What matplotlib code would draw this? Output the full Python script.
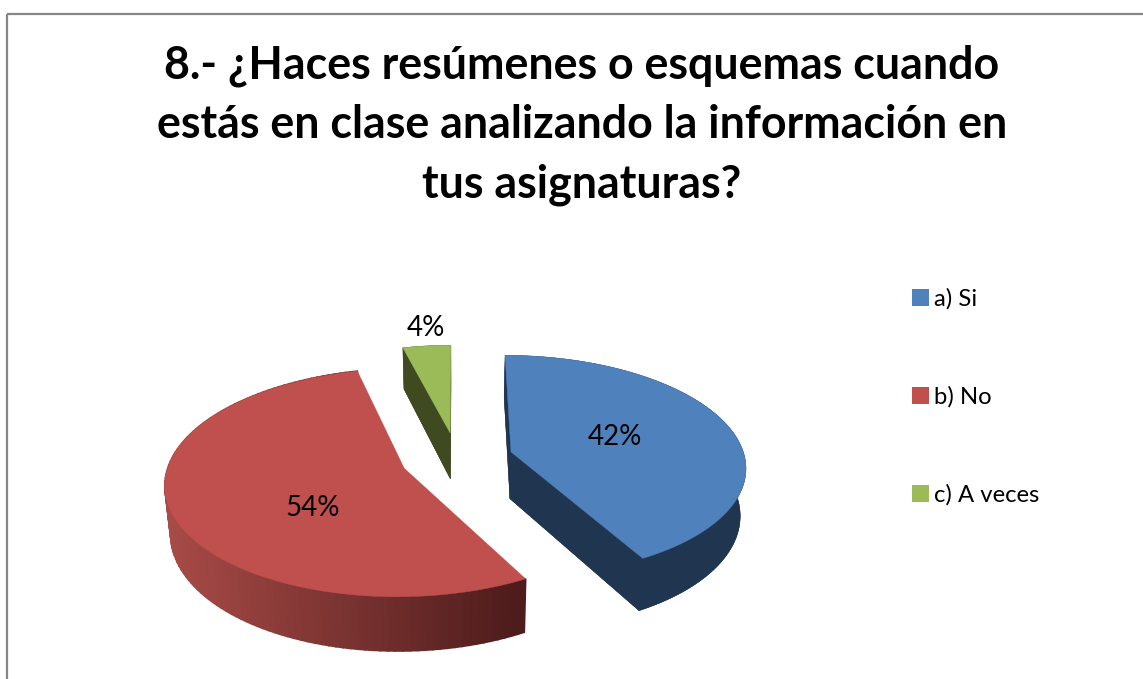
import matplotlib
matplotlib.use("Agg")
import matplotlib.pyplot as plt
from matplotlib.patches import Patch, Rectangle
from matplotlib.colors import to_rgb
import numpy as np

labels = ["a) Si", "b) No", "c) A veces"]
values = [42, 54, 4]
title = "8.- ¿Haces resúmenes o esquemas cuando\nestás en clase analizando la información en\ntus asignaturas?"

top_colors = ["#4F81BD", "#C0504D", "#9BBB59"]
wall_colors = ["#1F3550", None, "#3F4A20"]
label_pos = [(615, 437), (313, 508), (426, 328)]
radius_scale = [1, 1, 0.94]

plt.rcParams["font.family"] = ["Lato", "DejaVu Sans"]

# perspective settings of the fake 3d pie, in image pixels
cx, cy = 457, 458.5
rx, ry = 234, 110
persp = 0.123
depth = 47
shrink = 0.98
explode = 0.24


def project(u, v, low=False):
    s = 1 / (1 + persp * v)
    if low:
        return cx + rx * u * s * shrink, cy - ry * v * s + depth * s
    return cx + rx * u * s, cy - ry * v * s


def mix(c1, c2, t):
    return tuple(a + (b - a) * t for a, b in zip(to_rgb(c1), to_rgb(c2)))


fig = plt.figure(figsize=(11.43, 6.79), dpi=100)
ax = fig.add_axes([0, 0, 1, 1])
ax.set_xlim(0, 1143)
ax.set_ylim(679, 0)
ax.axis("off")

ax.add_patch(Rectangle((6.5, 13.5), 1200, 800, fill=False, edgecolor="#868686", linewidth=1.6))

start = 0
for i, val in enumerate(values):
    a0 = start
    a1 = start + val / sum(values) * 2 * np.pi
    start = a1
    mid = (a0 + a1) / 2
    ou, ov = explode * np.sin(mid), explode * np.cos(mid)
    th = np.linspace(a0, a1, 120)
    r = radius_scale[i]
    u = np.concatenate([[ou], ou + r * np.sin(th)])
    v = np.concatenate([[ov], ov + r * np.cos(th)])

    xt, yt = project(u, v)
    xb, yb = project(u, v, low=True)

    # walls first, the top face goes over them
    if wall_colors[i] is not None:
        ax.fill(xb, yb, color=wall_colors[i], lw=0.3, zorder=2)
        ax.fill(np.concatenate([xt[1:], xb[1:][::-1]]), np.concatenate([yt[1:], yb[1:][::-1]]),
                color=wall_colors[i], lw=0.3, zorder=2)
        for j in [0, len(u) - 1]:
            k = (j + 1) % len(u)
            ax.fill([xt[j], xt[k], xb[k], xb[j]], [yt[j], yt[k], yb[k], yb[j]],
                    color=wall_colors[i], lw=0.3, zorder=2)
    else:
        for j in range(1, len(u) - 1):
            t = np.clip((xt[j] - 165) / (519 - 165), 0, 1)
            col = mix("#A84B47", "#4E1C1C", t)
            ax.fill([xt[j], xt[j + 1], xb[j + 1], xb[j]], [yt[j], yt[j + 1], yb[j + 1], yb[j]],
                    color=col, lw=1.2, zorder=2)
    ax.fill(xt, yt, color=top_colors[i], lw=0.3, zorder=3)

    ax.text(label_pos[i][0], label_pos[i][1], f"{val}%", fontsize=20, ha="center", va="center",
            color="black", zorder=4)

ax.text(582, 125, title, fontsize=32.2, fontweight="bold", ha="center", va="center",
        linespacing=1.5, color="black")

handles = [Patch(facecolor=c, edgecolor="none") for c in top_colors]
ax.legend(handles, labels, loc="upper left", bbox_to_anchor=(912 / 1143, 1 - 288 / 679), frameon=False,
          fontsize=17.2, handlelength=0.72, handleheight=0.72, handletextpad=0.2,
          labelspacing=3.2, borderpad=0, borderaxespad=0)

fig.savefig("out.png", dpi=100)
